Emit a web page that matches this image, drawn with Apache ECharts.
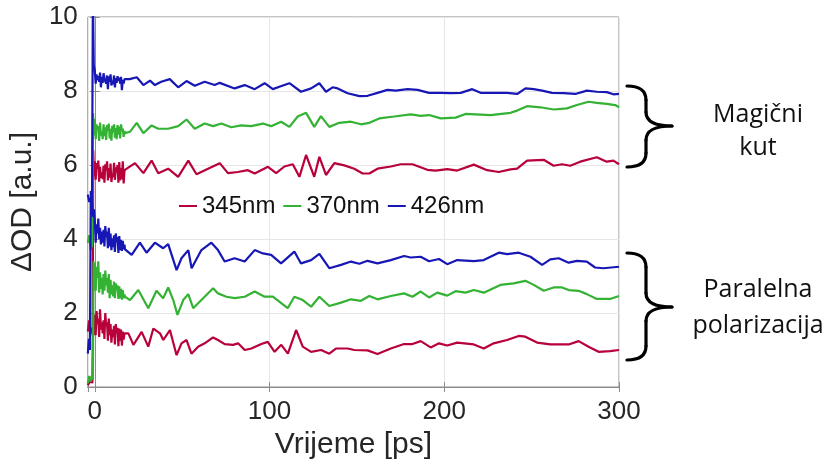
<!DOCTYPE html>
<html><head><meta charset="utf-8">
<script src="https://cdn.jsdelivr.net/npm/echarts@6/dist/echarts.min.js"></script>
<style>html,body{margin:0;padding:0;background:#fff}#c{width:826px;height:470px}</style>
</head><body><div id="c"></div>
<script>
// legend names
const seriesNames = ['345nm', '370nm', '426nm'];
const xTicks = [0, 100, 200, 300];
const yTicks = [0, 2, 4, 6, 8, 10];

// Magic angle (upper group)
const red345Magic = [[-4,1.5],[-3.3,1.8],[-2.6,1.4],[-1.8,1.6],[-1.2,1.5],[-0.9,6.4],[-0.5,5.7],
[0,6.10],[0.5,5.60],[1,6.05],[1.5,5.90],[2,6.12],[2.5,5.55],[3,5.95],[3.5,5.65],[4,5.80],[4.5,5.62],[5,5.98],[5.5,5.52],[6,6.02],[6.5,5.85],[7,6.10],[7.5,5.58],[8,5.92],[8.5,5.66],[9,6.04],[9.5,5.54],[10,5.76],[10.5,5.68],[11,6.06],[11.5,5.60],[12,5.94],[12.5,5.80],[13,6.00],[13.5,5.52],[14,6.08],[14.5,5.58],[15,5.92],[15.5,5.62],[16,6.10],[16.5,5.50],[17,5.86],
[17.3,5.86],[23,6.05],[27.8,5.78],[32.5,6.12],[36.3,5.78],[42,5.90],[47.7,5.68],[53.5,6.12],[58.2,5.75],[64.8,5.90],[71.5,6.05],[76.2,5.78],[81.9,5.81],[87.6,5.86],[91.5,5.77],[99.1,5.95],[103.8,5.78],[108.5,5.96],[113.3,6.02],[117.1,5.68],[120.9,6.27],[125.6,5.68],[128.5,6.22],[132.3,5.73],[137.1,6.05],[142.8,5.99],[148.5,5.90],[153.3,5.77],[157.1,5.77],[161.8,5.90],[169.4,5.96],[175.1,6.02],[181.8,6.02],[190.3,5.87],[195.1,5.85],[201.7,5.89],[207.4,5.85],[216.9,6.01],[224.5,5.86],[231.2,5.81],[237.9,5.88],[241.7,5.90],[247.4,6.12],[256.9,6.14],[262.6,5.98],[267.4,6.02],[272.1,5.98],[277.8,6.09],[287.3,6.21],[293,6.09],[296.8,6.12],[300,6.02]];

const green370Magic = [[-4,3.9],[-3.2,4.1],[-2.4,3.7],[-1.5,3.85],[-1.0,7.4],[-0.6,6.8],
[0,7.25],[0.5,6.70],[1,7.10],[1.5,6.95],[2,7.05],[2.5,6.65],[3,7.15],[3.5,6.80],[4,6.90],[4.5,6.70],[5,7.10],[5.5,6.78],[6,7.02],[6.5,6.68],[7,7.08],[7.5,6.92],[8,7.12],[8.5,6.72],[9,6.98],[9.5,6.66],[10,7.06],[10.5,6.88],[11,7.10],[11.5,6.74],[12,7.00],[12.5,6.70],[13,7.08],[13.5,6.82],[14,7.04],[14.5,6.72],[15,7.10],[15.5,6.92],[16,6.98],[16.5,6.76],[17,6.92],
[17.3,6.86],[20.2,6.90],[24,7.14],[27.8,6.86],[32.5,7.07],[36.3,6.98],[42,6.98],[47.7,7.05],[52.5,7.23],[57.2,6.98],[62.9,7.12],[67.7,7.05],[72.4,7.12],[78.1,7.02],[83.8,7.07],[89.5,7.05],[96.2,7.12],[100.9,7.05],[106.6,7.17],[111.4,7.03],[116.1,7.31],[120.9,7.41],[125.6,7.03],[129.4,7.32],[134.2,7.03],[139.9,7.14],[146.6,7.17],[152.3,7.10],[157.1,7.14],[162.8,7.26],[171.3,7.31],[180.8,7.37],[186.5,7.33],[191.3,7.35],[198,7.26],[206.5,7.28],[212.2,7.38],[226.5,7.35],[237.9,7.41],[241.7,7.47],[247.4,7.59],[255,7.56],[262.6,7.50],[270.2,7.53],[275.9,7.62],[282.6,7.71],[287.3,7.68],[293,7.65],[297.8,7.62],[300,7.56]];

const blue426Magic = [[-4,5.2],[-3.2,5.0],[-2.5,5.1],[-1.6,4.9],[-1.1,10.6],[-0.6,8.7],
[0,8.55],[0.5,8.20],[1,8.45],[1.5,8.30],[2,8.40],[2.5,8.25],[3,8.50],[3.5,8.10],[4,8.38],[4.5,8.22],[5,8.48],[5.5,8.32],[6,8.35],[6.5,8.20],[7,8.42],[7.5,8.05],[8,8.40],[8.5,8.25],[9,8.45],[9.5,8.15],[10,8.28],[10.5,8.18],[11,8.42],[11.5,8.10],[12,8.35],[12.5,8.22],[13,8.40],[13.5,8.28],[14,8.36],[14.5,8.20],[15,8.38],[15.5,8.02],[16,8.30],[16.5,8.20],[17,8.32],
[17.3,8.30],[20,8.32],[24,8.37],[27.8,8.16],[31.6,8.28],[34.4,8.16],[38,8.25],[42.9,8.32],[47.7,8.10],[52.5,8.27],[57.2,8.14],[62.9,8.25],[68.6,8.16],[71.5,8.22],[80,8.07],[85.8,8.16],[91.5,8.05],[97.2,8.21],[101.9,8.05],[106,8.12],[111.4,8.21],[118,7.98],[123.8,8.07],[128.5,8.21],[132.3,7.98],[136.1,8.10],[139,8.07],[144.7,7.94],[151.4,7.86],[156.1,7.87],[161.8,7.95],[167.5,8.03],[172.3,8.01],[179,8.05],[184.7,8.03],[191.3,7.95],[198,7.95],[203.7,7.94],[209.4,7.95],[216,8.05],[220.8,7.95],[230.3,7.95],[236,7.95],[241.7,7.92],[246.5,8.07],[251.2,8.05],[256,8.01],[261.7,7.95],[268.3,7.94],[275,7.92],[281.6,8.01],[287.3,7.98],[293,7.97],[296.8,7.91],[300,7.92]];

// Parallel polarisation (lower group)
const red345Par = [[-4,0.05],[-3,0.1],[-2,0.2],[-1.4,0.1],[-1.0,2.0],[-0.6,1.4],
[0,1.95],[0.5,1.40],[1,2.05],[1.5,1.70],[2,1.85],[2.5,1.35],[3,2.10],[3.5,1.55],[4,1.75],[4.5,1.45],[5,1.80],[5.5,1.30],[6,2.00],[6.5,1.65],[7,1.75],[7.5,1.25],[8,1.85],[8.5,1.40],[9,1.70],[9.5,1.20],[10,1.55],[10.5,1.35],[11,1.65],[11.5,1.15],[12,1.70],[12.5,1.45],[13,1.60],[13.5,1.10],[14,1.58],[14.5,1.25],[15,1.55],[15.5,1.12],[16,1.50],[16.5,1.28],[17,1.45],
[19.2,1.45],[22.1,1.14],[26.8,1.49],[30.6,1.09],[33.5,1.58],[37.3,1.45],[39.2,1.27],[43,1.54],[46.8,0.86],[49.6,1.18],[52.5,1.27],[55.3,0.90],[59.1,1.09],[62.9,1.18],[67.7,1.34],[70.5,1.27],[74.3,1.16],[79.1,1.14],[82,1.18],[85.8,1.00],[89.6,1.04],[95.3,1.16],[99,1.22],[102.9,0.95],[106.7,1.14],[110.5,0.90],[115.2,1.54],[119,1.09],[123.8,0.95],[129.5,1.00],[134.2,0.90],[138,1.04],[144.7,1.04],[148.5,1.00],[156.1,0.99],[161.8,0.89],[169.4,1.04],[177,1.16],[181.8,1.16],[186.5,1.24],[192.2,1.07],[197,1.18],[201.7,1.12],[207.4,1.20],[216.9,1.15],[222.6,1.04],[228.3,1.18],[235.9,1.27],[242.6,1.38],[246.4,1.36],[253.1,1.20],[260.7,1.15],[271.2,1.15],[276.9,1.24],[282.6,1.09],[288.3,0.95],[294.9,0.97],[300,1.0]];

const green370Par = [[-4,0.1],[-3.2,0.3],[-2.4,0.15],[-1.6,0.3],[-1.1,0.2],[-0.7,3.4],[-0.3,2.9],
[0,3.35],[0.5,2.60],[1,3.25],[1.5,2.95],[2,3.40],[2.5,2.55],[3,3.10],[3.5,2.65],[4,2.95],[4.5,2.50],[5,3.05],[5.5,2.60],[6,3.15],[6.5,2.75],[7,2.95],[7.5,2.55],[8,3.05],[8.5,2.40],[9,2.90],[9.5,2.50],[10,2.75],[10.5,2.45],[11,2.85],[11.5,2.40],[12,2.80],[12.5,2.62],[13,2.75],[13.5,2.38],[14,2.72],[14.5,2.40],[15,2.65],[15.5,2.36],[16,2.62],[16.5,2.40],[17,2.50],
[17.3,2.44],[20.2,2.35],[24.9,2.62],[30.6,2.13],[35.3,2.60],[39.1,2.40],[42,2.69],[44.9,2.35],[47.3,1.95],[50.6,2.35],[53.5,2.51],[56.3,2.13],[62,2.40],[67.7,2.67],[70.5,2.53],[75.3,2.44],[80,2.40],[85.8,2.44],[91.5,2.58],[97.2,2.44],[101.9,2.44],[110.4,2.13],[114.2,2.44],[119,2.35],[123.8,2.17],[128.5,2.44],[134.2,2.19],[140.9,2.28],[146.6,2.37],[152.3,2.33],[157.1,2.46],[161.8,2.37],[169.4,2.46],[177,2.53],[181.8,2.44],[186.5,2.58],[191.3,2.42],[196,2.55],[201.7,2.47],[206.5,2.59],[212.2,2.55],[216.9,2.62],[222.6,2.55],[232.1,2.76],[239.7,2.80],[246.4,2.87],[251.2,2.76],[256.9,2.60],[262.6,2.69],[267.4,2.69],[271.2,2.62],[276.9,2.60],[281.6,2.51],[287.3,2.38],[294.9,2.38],[300,2.46]];

const blue426Par = [[-4,0.9],[-3.4,1.3],[-2.8,1.0],[-2.3,5.3],[-1.6,5.0],[-1.0,4.6],[-0.5,4.8],
[0,4.50],[0.5,3.90],[1,4.40],[1.5,4.15],[2,4.55],[2.5,4.00],[3,4.30],[3.5,3.85],[4,4.20],[4.5,3.90],[5,4.25],[5.5,3.80],[6,4.35],[6.5,4.05],[7,4.20],[7.5,3.75],[8,4.30],[8.5,3.80],[9,4.15],[9.5,3.70],[10,4.02],[10.5,3.78],[11,4.10],[11.5,3.65],[12,4.15],[12.5,3.92],[13,4.05],[13.5,3.62],[14,4.08],[14.5,3.70],[15,3.98],[15.5,3.68],[16,3.95],[16.5,3.72],[17,3.85],
[17.3,3.72],[21.1,3.57],[25.8,3.90],[29.6,3.63],[34.4,3.90],[39.1,3.75],[42,3.86],[46.8,3.16],[49.6,3.48],[53.5,3.70],[55.4,3.21],[61,3.70],[66.7,3.90],[70.5,3.70],[74.3,3.39],[80,3.48],[85.8,3.39],[91.5,3.70],[96.2,3.61],[100.9,3.57],[106.6,3.34],[114.2,3.66],[118,3.34],[123.8,3.43],[128.5,3.60],[134.2,3.21],[140.9,3.30],[146.6,3.39],[151.4,3.33],[156.1,3.41],[161.8,3.34],[169.4,3.43],[177,3.54],[180.8,3.50],[186.5,3.52],[191.3,3.40],[197,3.46],[201.7,3.32],[207.4,3.43],[216.9,3.40],[222.6,3.43],[231.2,3.63],[236,3.59],[242.6,3.63],[249.3,3.52],[256,3.30],[260.7,3.45],[265.5,3.48],[271.2,3.36],[275.9,3.41],[281.6,3.39],[286.3,3.23],[291.1,3.21],[300,3.25]];

const annotTop = ['Magični', 'kut'];
const annotBottom = ['Paralelna', 'polarizacija'];

const COLORS = {'345nm': '#b8003a', '370nm': '#33b233', '426nm': '#1717b5'};
const FONT = '"Liberation Sans", Arial, sans-serif';
const ANNOT_FONT = '25px "Open Sans", Lato, sans-serif';

const chart = echarts.init(document.getElementById('c'), null, {renderer: 'canvas'});

function mkSeries(name, data) {
  return {
    name: name, type: 'line', data: data, showSymbol: false, symbol: 'none',
    lineStyle: {color: COLORS[name], width: 2.2}, itemStyle: {color: COLORS[name]},
    clip: true, animation: false, z: 3
  };
}

// curly brace built from quadratic curves and lines (decoration)
function brace(x0, xm, xt, y0, ym, y1, r) {
  const st = {fill: null, stroke: '#000', lineWidth: 3.2, lineCap: 'round'};
  const q = (a, b, c, d, e, f) => ({type: 'bezierCurve', shape: {x1: a, y1: b, cpx1: c, cpy1: d, x2: e, y2: f}, style: st});
  const l = (a, b, c, d) => ({type: 'line', shape: {x1: a, y1: b, x2: c, y2: d}, style: st});
  return [
    q(x0, y0, xm, y0, xm, y0 + r),
    l(xm, y0 + r, xm, ym - r),
    q(xm, ym - r, xm, ym, xt, ym),
    q(xt, ym, xm, ym, xm, ym + r),
    l(xm, ym + r, xm, y1 - r),
    q(xm, y1 - r, xm, y1, x0, y1)
  ];
}
function label(txt, x, y) {
  return {type: 'text', x: x, y: y, style: {text: txt, textAlign: 'center', textVerticalAlign: 'middle', fill: '#111', font: ANNOT_FONT}};
}

const axisTxt = {color: '#262626', fontFamily: FONT, fontSize: 26};

const option = {
  animation: false,
  backgroundColor: '#fff',
  grid: {left: 86, right: 207, top: 17, bottom: 83, show: true, borderColor: '#8c8c8c', borderWidth: 1, containLabel: false},
  legend: {
    data: seriesNames, left: 179, top: 194, itemGap: 8, itemWidth: 18, itemHeight: 2, icon: 'rect',
    padding: 0, textStyle: {color: '#111', fontFamily: FONT, fontSize: 24}
  },
  xAxis: [{
    type: 'value', min: -4, max: 300, splitNumber: 3,
    name: 'Vrijeme [ps]', nameLocation: 'middle', nameGap: 43,
    nameTextStyle: {color: '#262626', fontFamily: FONT, fontSize: 30},
    axisLine: {show: true, lineStyle: {color: '#8c8c8c'}},
    axisTick: {show: true, inside: true, length: 5, lineStyle: {color: '#8c8c8c'}},
    axisLabel: Object.assign({margin: 12, formatter: v => (xTicks.indexOf(v) >= 0 ? String(v) : '')}, axisTxt),
    splitLine: {show: true, lineStyle: {color: '#e6e6e6', width: 1}}
  }, {
    type: 'value', position: 'top', min: -4, max: 300, splitNumber: 3,
    axisLine: {show: true, lineStyle: {color: '#8c8c8c'}},
    axisTick: {show: true, inside: true, length: 5, lineStyle: {color: '#8c8c8c'}},
    axisLabel: {show: false}, splitLine: {show: false}
  }],
  yAxis: [{
    type: 'value', min: 0, max: 10, interval: 2,
    name: 'ΔOD [a.u.]', nameLocation: 'middle', nameGap: 46, nameRotate: 90,
    nameTextStyle: {color: '#262626', fontFamily: FONT, fontSize: 30},
    axisLine: {show: true, lineStyle: {color: '#8c8c8c'}},
    axisTick: {show: true, inside: true, length: 5, lineStyle: {color: '#8c8c8c'}},
    axisLabel: Object.assign({margin: 10, formatter: v => (yTicks.indexOf(v) >= 0 ? String(v) : '')}, axisTxt),
    splitLine: {show: true, lineStyle: {color: '#e6e6e6', width: 1}}
  }, {
    type: 'value', position: 'right', min: 0, max: 10, interval: 2,
    axisLine: {show: true, lineStyle: {color: '#8c8c8c'}},
    axisTick: {show: true, inside: true, length: 5, lineStyle: {color: '#8c8c8c'}},
    axisLabel: {show: false}, splitLine: {show: false}
  }],
  series: [
    mkSeries('345nm', red345Magic),
    mkSeries('370nm', green370Magic),
    mkSeries('426nm', blue426Magic),
    mkSeries('345nm', red345Par),
    mkSeries('370nm', green370Par),
    mkSeries('426nm', blue426Par)
  ],
  graphic: [].concat(
    brace(627, 646, 672, 86, 126, 167, 14),
    brace(627, 646, 672, 253, 307, 360, 14),
    [label(annotTop[0], 758, 115), label(annotTop[1], 758, 148),
     label(annotBottom[0], 758, 290), label(annotBottom[1], 758, 326)]
  )
};
chart.setOption(option);
</script>
</body></html>
